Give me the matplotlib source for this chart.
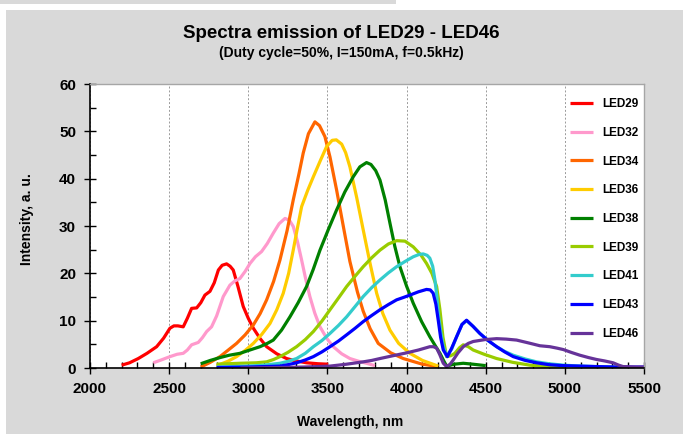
import matplotlib
matplotlib.use("Agg")
import matplotlib.pyplot as plt
from matplotlib.patches import Rectangle
from matplotlib.ticker import MultipleLocator

plt.rcParams['font.family'] = ['Liberation Sans', 'DejaVu Sans']
plt.rcParams['font.weight'] = 'bold'

title = "Spectra emission of LED29 - LED46"
subtitle = "(Duty cycle=50%, I=150mA, f=0.5kHz)"
xlabel = "Wavelength, nm"
ylabel = "Intensity, a. u."

led29_x = [2200, 2250, 2305, 2360, 2421, 2465, 2505, 2530, 2555, 2589, 2615, 2642, 2674, 2700, 2726, 2758, 2785, 2811, 2835, 2863, 2885, 2905, 2935, 2968, 3000, 3032, 3075, 3116, 3180, 3242, 3300, 3368, 3440, 3505]
led29_y = [0.6, 1.1, 2.0, 3.1, 4.5, 6.3, 8.4, 8.9, 8.9, 8.7, 10.5, 12.6, 12.7, 13.8, 15.4, 16.2, 18.0, 20.7, 21.7, 22.0, 21.5, 20.7, 17.2, 13.0, 10.5, 8.4, 6.2, 4.5, 3.0, 2.0, 1.5, 1.1, 0.9, 0.8]

led32_x = [2400, 2450, 2505, 2550, 2589, 2615, 2642, 2684, 2710, 2737, 2768, 2800, 2842, 2884, 2915, 2947, 2980, 3011, 3045, 3084, 3120, 3158, 3195, 3232, 3260, 3284, 3310, 3337, 3362, 3389, 3420, 3453, 3495, 3537, 3590, 3642, 3700, 3747, 3800]
led32_y = [1.1, 1.7, 2.4, 2.9, 3.1, 3.8, 4.9, 5.4, 6.4, 7.7, 8.7, 11.0, 15.1, 17.5, 18.4, 18.9, 20.4, 22.1, 23.5, 24.6, 26.3, 28.5, 30.5, 31.6, 31.2, 29.9, 26.8, 22.8, 18.9, 15.1, 11.6, 8.7, 6.3, 4.5, 3.0, 2.0, 1.4, 1.0, 0.5]

led34_x = [2700, 2760, 2821, 2870, 2926, 2980, 3032, 3075, 3116, 3160, 3200, 3245, 3284, 3320, 3347, 3380, 3421, 3450, 3484, 3516, 3558, 3600, 3642, 3690, 3726, 3770, 3821, 3900, 3979, 4100, 4200]
led34_y = [0.2, 1.2, 2.4, 3.7, 5.2, 7.0, 9.1, 11.5, 14.4, 18.3, 22.8, 29.0, 35.5, 41.0, 45.4, 49.5, 52.0, 51.2, 48.9, 44.6, 37.6, 30.0, 22.5, 16.0, 12.0, 8.3, 5.2, 3.2, 2.0, 0.8, 0.3]

led36_x = [2800, 2870, 2926, 2980, 3032, 3085, 3137, 3180, 3221, 3255, 3284, 3310, 3337, 3375, 3411, 3455, 3495, 3530, 3556, 3590, 3615, 3642, 3685, 3726, 3770, 3811, 3850, 3895, 3950, 4021, 4100, 4200]
led36_y = [0.5, 1.4, 2.4, 3.7, 5.2, 7.1, 9.4, 12.3, 15.8, 20.0, 24.9, 29.5, 34.1, 37.5, 40.4, 43.8, 46.8, 48.1, 48.2, 47.3, 45.5, 42.5, 36.0, 29.2, 22.0, 15.8, 11.5, 8.0, 5.2, 3.1, 1.6, 0.4]

led38_x = [2700, 2760, 2821, 2880, 2947, 3010, 3074, 3120, 3158, 3210, 3263, 3315, 3368, 3410, 3453, 3505, 3558, 3610, 3663, 3705, 3747, 3775, 3805, 3832, 3865, 3895, 3925, 3958, 4000, 4042, 4095, 4147, 4185, 4211, 4235, 4253, 4300, 4358, 4420, 4500]
led38_y = [0.9, 1.6, 2.2, 2.7, 3.1, 3.8, 4.5, 5.2, 5.9, 8.0, 10.8, 13.8, 17.2, 20.8, 24.9, 29.2, 33.4, 37.2, 40.4, 42.5, 43.4, 43.0, 41.7, 39.7, 35.5, 30.6, 25.8, 21.4, 17.3, 13.7, 9.8, 6.6, 4.5, 3.1, 1.5, 0.4, 0.8, 1.0, 0.8, 0.5]

led39_x = [2800, 2947, 3050, 3116, 3160, 3200, 3250, 3305, 3360, 3411, 3465, 3516, 3570, 3621, 3675, 3726, 3780, 3832, 3885, 3937, 3990, 4042, 4090, 4126, 4160, 4190, 4210, 4230, 4253, 4280, 4305, 4335, 4358, 4390, 4421, 4490, 4569, 4670, 4779, 4890, 5000]
led39_y = [0.8, 1.0, 1.1, 1.3, 1.8, 2.4, 3.3, 4.5, 6.0, 7.7, 9.9, 12.3, 14.8, 17.2, 19.4, 21.4, 23.3, 24.9, 26.2, 26.9, 26.8, 25.6, 23.9, 22.1, 20.0, 17.2, 12.5, 6.5, 2.4, 2.6, 3.1, 4.3, 4.9, 4.5, 3.8, 2.9, 2.0, 1.2, 0.6, 0.3, 0.2]

led41_x = [2800, 3000, 3100, 3200, 3250, 3305, 3360, 3411, 3465, 3516, 3570, 3621, 3675, 3726, 3780, 3832, 3885, 3937, 3990, 4042, 4080, 4105, 4130, 4147, 4165, 4179, 4190, 4200, 4215, 4232, 4253, 4285, 4316, 4350, 4379, 4420, 4463, 4515, 4569, 4620, 4674, 4750, 4821, 4900, 4990, 5100, 5200, 5300, 5400]
led41_y = [0.2, 0.4, 0.6, 1.0, 1.4, 2.0, 3.1, 4.5, 5.8, 7.3, 9.0, 10.8, 13.0, 15.1, 17.0, 18.6, 20.1, 21.4, 22.5, 23.5, 24.0, 24.1, 23.8, 23.2, 21.5, 18.6, 15.5, 11.6, 7.8, 4.5, 2.5, 4.0, 6.6, 9.2, 10.0, 8.8, 7.3, 5.8, 4.5, 3.5, 2.7, 1.9, 1.3, 0.9, 0.6, 0.4, 0.3, 0.2, 0.1]

led43_x = [2800, 3000, 3200, 3250, 3305, 3360, 3411, 3465, 3516, 3570, 3621, 3675, 3726, 3780, 3832, 3885, 3937, 3980, 4021, 4075, 4126, 4150, 4168, 4185, 4200, 4215, 4232, 4258, 4285, 4316, 4350, 4379, 4420, 4463, 4515, 4569, 4620, 4674, 4750, 4821, 4900, 4990, 5100, 5200, 5350, 5500]
led43_y = [0.1, 0.2, 0.4, 0.7, 1.1, 1.7, 2.4, 3.4, 4.5, 5.7, 7.0, 8.4, 9.8, 11.1, 12.3, 13.4, 14.4, 14.9, 15.4, 16.1, 16.6, 16.5, 15.8, 13.5, 10.1, 6.5, 3.8, 2.4, 4.2, 6.6, 9.2, 10.1, 8.8, 7.3, 5.8, 4.5, 3.4, 2.4, 1.6, 1.1, 0.7, 0.5, 0.4, 0.3, 0.2, 0.2]

led46_x = [2950, 3200, 3350, 3516, 3620, 3726, 3780, 3832, 3915, 4000, 4075, 4147, 4170, 4190, 4210, 4232, 4253, 4275, 4295, 4325, 4358, 4390, 4421, 4495, 4569, 4630, 4695, 4770, 4842, 4905, 4950, 4990, 5040, 5095, 5150, 5200, 5250, 5305, 5340, 5368, 5450, 5500]
led46_y = [0.0, 0.1, 0.2, 0.4, 0.8, 1.3, 1.6, 2.0, 2.6, 3.2, 3.8, 4.5, 4.5, 4.2, 2.8, 1.0, 0.3, 0.8, 1.7, 3.2, 4.5, 5.2, 5.6, 6.0, 6.2, 6.1, 5.9, 5.3, 4.7, 4.5, 4.2, 3.9, 3.3, 2.7, 2.2, 1.8, 1.5, 1.1, 0.6, 0.3, 0.2, 0.2]

labels = ["LED29", "LED32", "LED34", "LED36", "LED38", "LED39", "LED41", "LED43", "LED46"]
colors = ["#FF0000", "#FF99CC", "#FF6600", "#FFCC00", "#008000", "#99CC00", "#33CCCC", "#0000FF", "#663399"]
series = [(led29_x, led29_y), (led32_x, led32_y), (led34_x, led34_y), (led36_x, led36_y),
          (led38_x, led38_y), (led39_x, led39_y), (led41_x, led41_y), (led43_x, led43_y),
          (led46_x, led46_y)]

fig = plt.figure(figsize=(6.83, 4.34), dpi=100)
fig.patch.set_facecolor('white')
W, H = 683, 434
fig.patches.append(Rectangle((6 / W, 0), 1 - 6 / W, (H - 10) / H, transform=fig.transFigure,
                             facecolor='#D9D9D9', edgecolor='none', zorder=-10))
fig.patches.append(Rectangle((0, (H - 4) / H), 396 / W, 4 / H, transform=fig.transFigure,
                             facecolor='#D9D9D9', edgecolor='none', zorder=-10))

ax = fig.add_axes([90 / W, 1 - 368 / H, (644 - 90) / W, (368 - 84) / H])
ax.set_zorder(1)
ax.set_facecolor('white')

for (xs, ys), lab, c in zip(series, labels, colors):
    ax.plot(xs, ys, color=c, lw=2.3, label=lab, solid_capstyle='butt', solid_joinstyle='round')

ax.set_xlim(2000, 5500)
ax.set_ylim(0, 60)
ax.xaxis.set_major_locator(MultipleLocator(500))
ax.xaxis.set_minor_locator(MultipleLocator(100))
ax.yaxis.set_major_locator(MultipleLocator(10))
ax.yaxis.set_minor_locator(MultipleLocator(5))

ax.grid(axis='x', which='major', color='#9A9A9A', linestyle=(0, (2, 2)), lw=0.7)
ax.set_axisbelow(True)

for s in ['top', 'right']:
    ax.spines[s].set_color('#A6A6A6')
    ax.spines[s].set_linewidth(1.0)
for s in ['left', 'bottom']:
    ax.spines[s].set_color('black')
    ax.spines[s].set_linewidth(1.2)

ax.tick_params(which='major', direction='inout', length=8, width=1.0, color='black')
ax.tick_params(which='minor', direction='in', length=4, width=1.0, color='black')
ax.tick_params(axis='x', which='major', labelsize=11, pad=6)
ax.tick_params(axis='y', which='major', labelsize=11, pad=6)
for lab in ax.get_xticklabels() + ax.get_yticklabels():
    lab.set_fontweight('bold')

leg = ax.legend(loc='upper left', bbox_to_anchor=(0.857, 0.967), frameon=False,
                prop={'size': 8.5, 'weight': 'bold'}, handlelength=2.0, handletextpad=0.75,
                labelspacing=1.415, borderaxespad=0)

fig.text(0.5, 1 - 34 / H, title, ha='center', va='center', fontsize=13.5, fontweight='bold')
fig.text(0.5, 1 - 53 / H, subtitle, ha='center', va='center', fontsize=10, fontweight='bold')
fig.text(350 / W, 1 - 422 / H, xlabel, ha='center', va='center', fontsize=10, fontweight='bold')
fig.text(27 / W, 1 - 219 / H, ylabel, ha='center', va='center', rotation=90, fontsize=10, fontweight='bold')

fig.savefig('out.png', dpi=100, facecolor=fig.get_facecolor())
